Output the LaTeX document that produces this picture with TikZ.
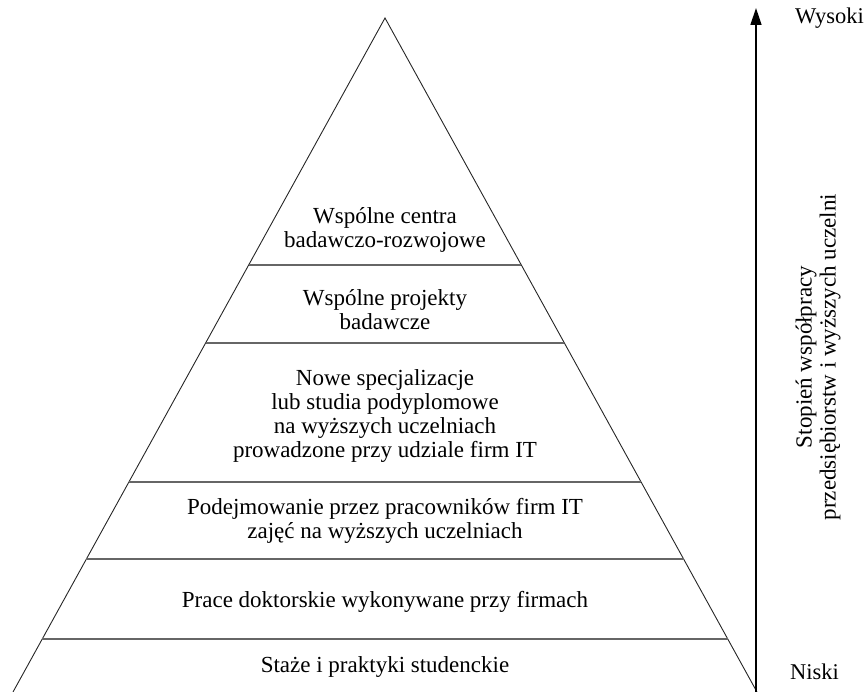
\documentclass[tikz,border=0pt]{standalone}
\usepackage{fontspec}
\setmainfont{Liberation Serif}
\usetikzlibrary{arrows.meta}
\tikzset{
  side/.style={draw=black!85, line width=0.9pt},
  tier/.style={draw=black!60, line width=1.1pt},
  lbl/.style={align=center, font=\fontsize{23}{24}\selectfont, inner sep=0pt},
  axislbl/.style={font=\fontsize{22.5}{24}\selectfont, inner sep=0pt},
  axis/.style={line width=1.5pt, -{Triangle[length=17pt,width=11pt]}}
}
\begin{document}
\begin{tikzpicture}[x=1pt,y=-1pt]
\useasboundingbox (0,0) rectangle (865,692);
% pyramid
\coordinate (apex) at (385,18);
\coordinate (bl) at (13,692);
\coordinate (br) at (757,692);
\draw[side] (bl) -- (apex) -- (br);
\foreach \yy in {265,343,482,559,639}{
  \pgfmathsetmacro{\hw}{0.552*(\yy-18)}
  \draw[tier] (385-\hw,\yy) -- (385+\hw,\yy);
}
% labels
\node[lbl] (t1) at (385,230) {Wspólne centra\\badawczo-rozwojowe};
\node[lbl] (t2) at (385,310) {Wspólne projekty\\badawcze};
\node[lbl] (t3) at (385,416) {Nowe specjalizacje\\lub studia podyplomowe\\na wyższych uczelniach\\prowadzone przy udziale firm IT};
\node[lbl] (t4) at (385,521) {Podejmowanie przez pracowników firm IT\\zajęć na wyższych uczelniach};
\node[lbl] (t5) at (385,602) {Prace doktorskie wykonywane przy firmach};
\node[lbl] (t6) at (385,667) {Staże i praktyki studenckie};
% axis
\coordinate (lo) at (756,692);
\coordinate (hi) at (756,8);
\draw[axis] (lo) -- (hi);
\node[axislbl, anchor=west] (high) at (795,18) {Wysoki};
\node[axislbl, anchor=west] (low) at (790,672) {Niski};
\node[lbl, rotate=90] (ax) at (818,357) {Stopień współpracy\\przedsiębiorstw i wyższych uczelni};
\end{tikzpicture}
\end{document}
